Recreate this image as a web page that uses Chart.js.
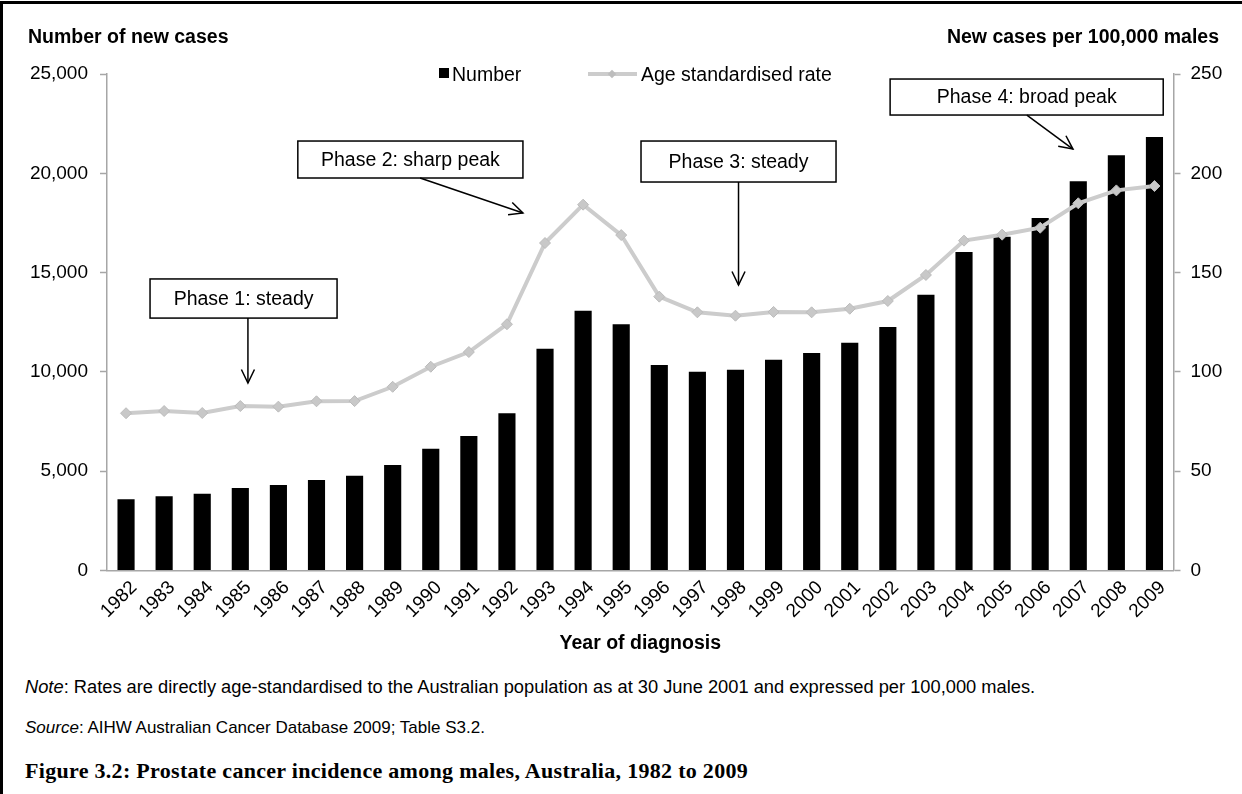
<!DOCTYPE html>
<html><head><meta charset="utf-8">
<script src="https://cdn.jsdelivr.net/npm/chart.js@4.4.0/dist/chart.umd.min.js"></script>
<style>
html,body{margin:0;padding:0;background:#fff;}
body{width:1242px;height:794px;position:relative;overflow:hidden;font-family:"Liberation Sans",Arial,sans-serif;color:#000;}
#frame{position:absolute;left:0;top:1px;width:1242px;height:793px;border-top:3px solid #000;border-left:3px solid #000;box-sizing:border-box;}
#wrap{position:absolute;left:0;top:0;width:1242px;height:655px;}
.t{position:absolute;white-space:nowrap;line-height:1;}
.sq{position:absolute;left:439px;top:68px;width:10px;height:10px;background:#000;}
.ln{position:absolute;left:588px;top:72px;width:49px;height:4px;background:#cccccc;}
.dm{position:absolute;left:609px;top:70.5px;width:6px;height:6px;background:#bdbdbd;transform:rotate(45deg);}
</style></head><body>
<div id="frame"></div>
<div id="wrap"><canvas id="c" width="1242" height="655"></canvas></div>
<div class="t" style="left:28px;top:26.5px;font-size:19.5px;font-weight:bold">Number of new cases</div>
<div class="t" style="right:23px;top:26.5px;font-size:19.5px;font-weight:bold">New cases per 100,000 males</div>
<div class="sq"></div>
<div class="t" style="left:452px;top:64.5px;font-size:19.5px">Number</div>
<div class="ln"></div><div class="dm"></div>
<div class="t" style="left:641px;top:64.5px;font-size:19.5px">Age standardised rate</div>
<div class="t" style="left:25px;top:677.5px;font-size:18.3px"><i>Note</i>: Rates are directly age-standardised to the Australian population as at 30 June 2001 and expressed per 100,000 males.</div>
<div class="t" style="left:25px;top:718.6px;font-size:17px"><i>Source</i>: AIHW Australian Cancer Database 2009; Table S3.2.</div>
<div class="t" style="left:25px;top:759.5px;font-size:22px;letter-spacing:0.3px;font-weight:bold;font-family:'Liberation Serif',serif">Figure 3.2: Prostate cancer incidence among males, Australia, 1982 to 2009</div>
<script>
const years = ['1982','1983','1984','1985','1986','1987','1988','1989','1990','1991','1992','1993','1994','1995','1996','1997','1998','1999','2000','2001','2002','2003','2004','2005','2006','2007','2008','2009'];
const newCases = [3585,3736,3867,4154,4305,4557,4773,5312,6133,6770,7915,11168,13081,12396,10347,10010,10110,10614,10951,11470,12260,13880,16036,16807,17749,19596,20905,21827];
const ratePer100k = [79.2,80.3,79.3,82.8,82.5,85.2,85.3,92.5,102.6,110.0,124.0,164.9,184.2,168.9,137.9,130.0,128.3,130.2,130.0,131.8,135.7,148.8,166.1,169.1,172.6,184.9,191.4,193.6];
const leftTickValues = [0,5000,10000,15000,20000,25000];
const rightTickValues = [0,50,100,150,200,250];

// Annotation boxes and arrows, in data coordinates (category index, left-axis value)
const phaseNotes = [
  {label:'Phase 1: steady', box:[0.63,14680,5.54,12710], from:[3.2,12710], to:[3.2,9440]},
  {label:'Phase 2: sharp peak', box:[4.51,21625,10.42,19763], from:[7.72,19763], to:[10.42,18000]},
  {label:'Phase 3: steady', box:[13.52,21625,18.64,19561], from:[16.08,19561], to:[16.08,14375]},
  {label:'Phase 4: broad peak', box:[20.06,24747,27.23,22934], from:[23.65,22934], to:[24.86,21222]}
];

const AX = '#a6a6a6';
const notesPlugin = {
  id:'phaseNotes',
  afterDatasetsDraw(chart){
    const ctx = chart.ctx, xs = chart.scales.x, ys = chart.scales.y;
    ctx.save();
    phaseNotes.forEach(n=>{
      const x0 = xs.getPixelForValue(n.box[0]), y0 = ys.getPixelForValue(n.box[1]);
      const x1 = xs.getPixelForValue(n.box[2]), y1 = ys.getPixelForValue(n.box[3]);
      ctx.fillStyle='#fff'; ctx.fillRect(x0,y0,x1-x0,y1-y0);
      ctx.strokeStyle='#000'; ctx.lineWidth=1.5; ctx.strokeRect(x0,y0,x1-x0,y1-y0);
      ctx.fillStyle='#000'; ctx.font='19.5px "Liberation Sans", Arial, sans-serif';
      ctx.textAlign='center'; ctx.textBaseline='middle';
      ctx.fillText(n.label,(x0+x1)/2,(y0+y1)/2+1);
      const ax = xs.getPixelForValue(n.from[0]), ay = ys.getPixelForValue(n.from[1]);
      const bx = xs.getPixelForValue(n.to[0]), by = ys.getPixelForValue(n.to[1]);
      ctx.beginPath(); ctx.moveTo(ax,ay); ctx.lineTo(bx,by); ctx.stroke();
      const ang = Math.atan2(by-ay,bx-ax), L=15, a=0.45;
      ctx.beginPath();
      ctx.moveTo(bx-L*Math.cos(ang-a), by-L*Math.sin(ang-a));
      ctx.lineTo(bx,by);
      ctx.lineTo(bx-L*Math.cos(ang+a), by-L*Math.sin(ang+a));
      ctx.stroke();
    });
    ctx.restore();
  }
};

const tickFont = {family:'"Liberation Sans", Arial, sans-serif', size:19};
new Chart(document.getElementById('c'), {
  data:{
    labels: years,
    datasets:[
      {type:'line', label:'Age standardised rate', data: ratePer100k, yAxisID:'y1', order:0,
       borderColor:'#cccccc', borderWidth:4, tension:0,
       pointStyle:'rectRot', pointRadius:5.5, pointBackgroundColor:'#c8c8c8', pointBorderColor:'#bbbbbb', pointBorderWidth:1},
      {type:'bar', label:'Number', data: newCases, yAxisID:'y', order:1,
       backgroundColor:'#000', categoryPercentage:1, barPercentage:0.45}
    ]
  },
  options:{
    responsive:false, animation:false, devicePixelRatio:1,
    layout:{padding:{top:74,left:0,right:0,bottom:0}},
    plugins:{legend:{display:false}, tooltip:{enabled:false}},
    scales:{
      x:{type:'category', offset:true,
         grid:{display:true, drawOnChartArea:false, drawTicks:false},
         border:{color:AX, width:1.5},
         ticks:{minRotation:45, maxRotation:45, autoSkip:false, font:tickFont, color:'#000', padding:6, labelOffset:8},
         title:{display:true, text:'Year of diagnosis', color:'#000', padding:0,
                font:{family:'"Liberation Sans", Arial, sans-serif', size:19.5, weight:'bold'}},
         afterFit(s){ s.height = 84.5; }},
      y:{position:'left', min:0, max:25000,
         afterBuildTicks(s){ s.ticks = leftTickValues.map(v=>({value:v})); },
         ticks:{font:tickFont, color:'#000', padding:12, callback:v=>v.toLocaleString('en-US')},
         grid:{drawOnChartArea:false, tickLength:7, tickColor:AX, tickWidth:1.5},
         border:{color:AX, width:1.5},
         afterFit(s){ s.width = 107; }},
      y1:{position:'right', min:0, max:250,
         afterBuildTicks(s){ s.ticks = rightTickValues.map(v=>({value:v})); },
         ticks:{font:tickFont, color:'#000', padding:10},
         grid:{drawOnChartArea:false, tickLength:7, tickColor:AX, tickWidth:1.5},
         border:{color:AX, width:1.5},
         afterFit(s){ s.width = 68.5; }}
    }
  },
  plugins:[notesPlugin]
});
</script>
</body></html>
